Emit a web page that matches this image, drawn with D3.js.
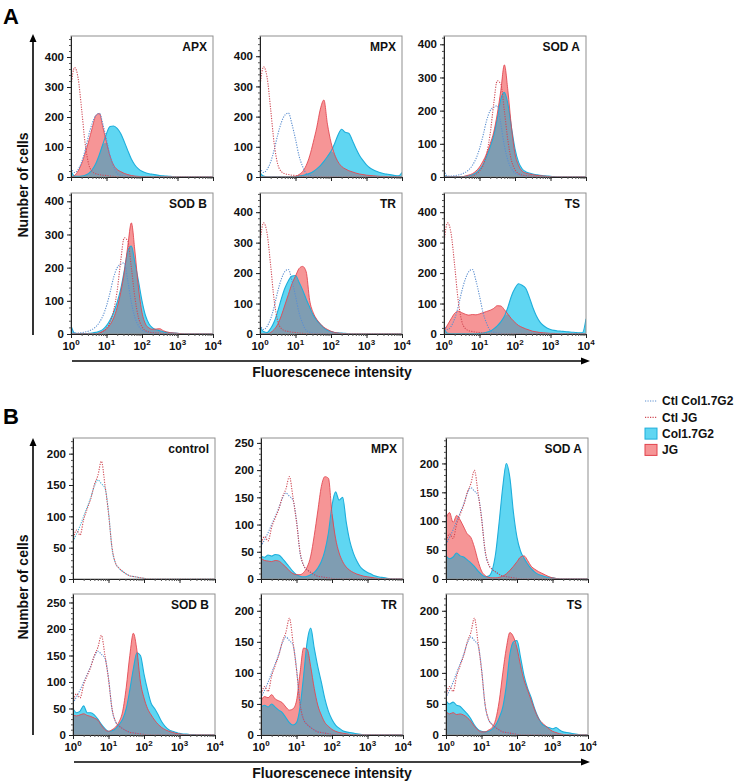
<!DOCTYPE html>
<html>
<head>
<meta charset="utf-8">
<script src="https://cdn.jsdelivr.net/npm/d3@7"></script>
<style>
  body { margin: 0; background: #fff; }
  svg { display: block; font-family: "Liberation Sans", Arial, sans-serif; }
</style>
</head>
<body>
<div id="chart"></div>
<script>
// histogram bins, log10 of fluorescence intensity
const bins = [0, 0.1, 0.2, 0.3, 0.4, 0.5, 0.6, 0.7, 0.8, 0.9, 1, 1.1, 1.2, 1.3, 1.4, 1.5, 1.6, 1.7, 1.8, 1.9, 2,
              2.1, 2.2, 2.3, 2.4, 2.5, 2.6, 2.7, 2.8, 2.9, 3, 3.1, 3.2, 3.3, 3.4, 3.5, 3.6, 3.7, 3.8, 3.9, 4];

const decadeTicks = [1, 10, 100, 1000, 10000];
const decadeExp = ['0', '1', '2', '3', '4'];
const yTicksA = [0, 100, 200, 300, 400];
const yTicksB = [0, 50, 100, 150, 200];
const yTicksB250 = [0, 50, 100, 150, 200, 250];

// ---- A: controls ----
const ctlJgA = [300, 365, 330, 225, 110, 42, 18, 11, 8, 6, 5, 3, 2, 1, 0, 0, 0, 0, 0, 0, 0,
                0, 0, 0, 0, 0, 0, 0, 0, 0, 0, 0, 0, 0, 0, 0, 0, 0, 0, 0, 0];
const ctlColA = [30, 15, 25, 50, 90, 140, 180, 205, 212, 175, 125, 70, 35, 12, 6, 3, 2, 0, 0, 0, 0,
                 0, 0, 0, 0, 0, 0, 0, 0, 0, 0, 0, 0, 0, 0, 0, 0, 0, 0, 0, 0];
const ctlColSod = [20, 3, 3, 4, 6, 9, 14, 22, 35, 55, 85, 125, 170, 200, 210, 215, 160, 95, 50, 25, 12,
                   7, 4, 3, 2, 1, 0, 0, 0, 0, 0, 0, 0, 0, 0, 0, 0, 0, 0, 0, 0];
const ctlJgSod = [0, 0, 0, 0, 0, 0, 0, 0, 3, 8, 18, 35, 70, 130, 220, 290, 280, 200, 110, 50, 22,
                  10, 6, 4, 3, 2, 1, 0, 0, 0, 0, 0, 0, 0, 0, 0, 0, 0, 0, 0, 0];

// ---- A: stained ----
const apxCol = [20, 3, 2, 3, 6, 12, 25, 45, 75, 110, 145, 168, 170, 162, 145, 118, 88, 60, 40, 27, 19,
                14, 11, 9, 7, 5, 4, 3, 2, 1, 0, 0, 0, 0, 0, 0, 0, 0, 0, 0, 0];
const apxJg = [0, 5, 20, 45, 80, 120, 165, 205, 212, 165, 115, 70, 40, 25, 18, 12, 8, 5, 3, 2, 1,
               0, 0, 0, 0, 0, 0, 0, 0, 0, 0, 0, 0, 0, 0, 0, 0, 0, 0, 0, 0];
const mpxCol = [15, 3, 1, 1, 1, 1, 1, 1, 1, 1, 1, 3, 5, 8, 12, 18, 27, 38, 52, 68, 85,
                110, 140, 158, 148, 145, 122, 95, 72, 55, 40, 30, 23, 18, 14, 11, 9, 7, 5, 4, 15];
const mpxJg = [0, 0, 0, 0, 0, 0, 0, 0, 0, 0, 2, 8, 18, 38, 70, 115, 165, 225, 255, 175, 115,
               75, 50, 35, 27, 21, 17, 13, 10, 8, 6, 5, 4, 3, 2, 2, 1, 0, 0, 0, 0];
const sodACol = [5, 1, 1, 1, 1, 1, 2, 4, 7, 12, 22, 38, 62, 90, 125, 175, 235, 255, 220, 150, 85,
                 45, 25, 16, 12, 9, 7, 5, 4, 3, 2, 1, 0, 0, 0, 0, 0, 0, 0, 0, 0];
const sodAJg = [0, 0, 0, 0, 0, 0, 3, 6, 10, 18, 30, 48, 70, 100, 135, 190, 260, 338, 260, 150, 70,
                35, 18, 12, 9, 7, 5, 4, 3, 2, 1, 0, 0, 0, 0, 0, 0, 0, 0, 0, 0];
const sodBCol = [25, 3, 1, 1, 1, 2, 3, 5, 8, 14, 25, 42, 65, 95, 135, 190, 250, 265, 215, 160, 100,
                 55, 30, 18, 13, 10, 7, 5, 4, 3, 2, 1, 0, 0, 0, 0, 0, 0, 0, 0, 0];
const sodBJg = [0, 0, 0, 0, 0, 0, 0, 0, 3, 8, 15, 28, 48, 80, 125, 185, 265, 335, 250, 140, 65,
                30, 18, 14, 15, 16, 10, 6, 4, 3, 2, 1, 0, 0, 0, 0, 0, 0, 0, 0, 0];
const trCol = [25, 8, 5, 18, 40, 75, 115, 150, 175, 190, 192, 170, 145, 115, 88, 62, 45, 32, 20, 12, 8,
               5, 4, 3, 2, 1, 0, 0, 0, 0, 0, 0, 0, 0, 0, 0, 0, 0, 0, 0, 0];
const trJg = [0, 0, 0, 5, 15, 32, 60, 95, 130, 165, 190, 215, 222, 205, 110, 70, 48, 33, 22, 15, 9,
              5, 3, 2, 1, 0, 0, 0, 0, 0, 0, 0, 0, 0, 0, 0, 0, 0, 0, 0, 0];
const tsCol = [20, 2, 1, 1, 1, 1, 1, 1, 1, 1, 2, 3, 6, 10, 17, 27, 40, 58, 88, 125, 150,
               165, 160, 150, 122, 88, 60, 40, 28, 20, 15, 12, 10, 9, 8, 7, 6, 5, 4, 4, 50];
const tsJg = [10, 30, 50, 68, 75, 70, 65, 62, 64, 63, 66, 70, 74, 78, 84, 93, 92, 80, 65, 50, 38,
              28, 22, 17, 13, 9, 7, 5, 4, 3, 2, 2, 1, 0, 0, 0, 0, 0, 0, 0, 0];

// ---- B: controls (same in every panel) ----
const ctlJgB = [62, 78, 70, 95, 112, 128, 150, 165, 188, 150, 105, 50, 25, 17, 12, 8, 5, 4, 3, 2, 1,
                0, 0, 0, 0, 0, 0, 0, 0, 0, 0, 0, 0, 0, 0, 0, 0, 0, 0, 0, 0];
const ctlColB = [60, 72, 85, 100, 115, 130, 148, 158, 152, 145, 108, 48, 25, 17, 12, 8, 5, 4, 3, 2, 1,
                 0, 0, 0, 0, 0, 0, 0, 0, 0, 0, 0, 0, 0, 0, 0, 0, 0, 0, 0, 0];

// ---- B: stained ----
const mpxColB = [42, 40, 44, 42, 45, 44, 38, 30, 22, 14, 8, 5, 4, 5, 8, 12, 20, 32, 52, 85, 135,
                 160, 145, 150, 105, 70, 48, 33, 22, 16, 12, 9, 6, 4, 3, 2, 1, 0, 0, 0, 0];
const mpxJgB = [38, 34, 33, 32, 34, 33, 28, 22, 15, 10, 8, 8, 12, 22, 42, 80, 125, 170, 188, 185, 120,
                75, 48, 32, 22, 16, 12, 9, 7, 5, 4, 3, 2, 1, 0, 0, 0, 0, 0, 0, 0];
const sodAColB = [40, 35, 38, 45, 40, 38, 33, 28, 22, 14, 8, 4, 5, 15, 45, 100, 160, 200, 175, 115, 72,
                  48, 36, 26, 18, 12, 8, 6, 4, 3, 2, 1, 0, 0, 0, 0, 0, 0, 0, 0, 0];
const sodAJgB = [105, 115, 98, 110, 102, 90, 78, 72, 55, 32, 14, 6, 3, 2, 2, 3, 5, 9, 15, 22, 30,
                 38, 40, 32, 22, 17, 13, 10, 7, 4, 2, 1, 0, 0, 0, 0, 0, 0, 0, 0, 0];
const sodBColB = [50, 42, 45, 55, 42, 42, 38, 30, 20, 12, 7, 8, 12, 20, 30, 50, 85, 125, 155, 150, 115,
                  85, 60, 50, 38, 25, 16, 10, 7, 5, 3, 2, 2, 1, 1, 0, 0, 0, 0, 0, 0];
const sodBJgB = [38, 36, 38, 40, 37, 35, 32, 28, 18, 10, 7, 10, 15, 25, 45, 90, 150, 192, 160, 100, 70,
                 50, 38, 28, 20, 14, 10, 7, 5, 3, 2, 1, 0, 0, 0, 0, 0, 0, 0, 0, 0];
const trColB = [45, 48, 45, 50, 45, 40, 36, 28, 20, 16, 20, 45, 95, 150, 172, 140, 110, 85, 58, 38, 25,
                16, 11, 7, 5, 4, 3, 2, 1, 0, 0, 0, 0, 0, 0, 0, 0, 0, 0, 0, 0];
const trJgB = [55, 62, 60, 65, 58, 55, 52, 45, 40, 42, 55, 100, 140, 138, 110, 75, 48, 32, 20, 14, 9,
               6, 4, 3, 2, 1, 0, 0, 0, 0, 0, 0, 0, 0, 0, 0, 0, 0, 0, 0, 0];
const tsColB = [55, 50, 53, 48, 46, 40, 34, 26, 16, 9, 6, 5, 6, 9, 16, 28, 45, 80, 130, 150, 152,
                125, 95, 75, 60, 42, 28, 18, 14, 12, 10, 12, 8, 5, 4, 3, 2, 1, 0, 0, 0];
const tsJgB = [38, 34, 36, 33, 34, 32, 28, 22, 14, 8, 5, 5, 8, 12, 25, 55, 100, 140, 165, 158, 140,
               112, 88, 72, 56, 40, 27, 20, 15, 10, 6, 4, 2, 1, 0, 0, 0, 0, 0, 0, 0];

const legendLabels = ['Ctl Col1.7G2', 'Ctl JG', 'Col1.7G2', 'JG'];

// colours
const cyanFill = '#5fd6f2', cyanLine = '#1eaedb';
const redFill = '#f69596', redLine = '#e2434d';
const overlapFill = '#7f9db2';
const ctlBlue = '#5c8fd0', ctlRed = '#d04a55';

const W = 754, H = 783;
const svg = d3.select('#chart').append('svg').attr('width', W).attr('height', H);

const panels = [
  // section A
  { id: 'a1', name: 'APX',   col: apxCol,  jg: apxJg,  cc: ctlColA,   cj: ctlJgA,   yMax: 470, ticks: yTicksA, minor: 20, left: 71,  top: 36,  bottomLabels: false },
  { id: 'a2', name: 'MPX',   col: mpxCol,  jg: mpxJg,  cc: ctlColA,   cj: ctlJgA,   yMax: 467, ticks: yTicksA, minor: 20, left: 260, top: 36,  bottomLabels: false },
  { id: 'a3', name: 'SOD A', col: sodACol, jg: sodAJg, cc: ctlColSod, cj: ctlJgSod, yMax: 425, ticks: yTicksA, minor: 20, left: 444, top: 36,  bottomLabels: false },
  { id: 'a4', name: 'SOD B', col: sodBCol, jg: sodBJg, cc: ctlColSod, cj: ctlJgSod, yMax: 425, ticks: yTicksA, minor: 20, left: 71,  top: 193, bottomLabels: true },
  { id: 'a5', name: 'TR',    col: trCol,   jg: trJg,   cc: ctlColA,   cj: ctlJgA,   yMax: 463, ticks: yTicksA, minor: 20, left: 260, top: 193, bottomLabels: true },
  { id: 'a6', name: 'TS',    col: tsCol,   jg: tsJg,   cc: ctlColA,   cj: ctlJgA,   yMax: 463, ticks: yTicksA, minor: 20, left: 444, top: 193, bottomLabels: true },
  // section B
  { id: 'b1', name: 'control', col: null,    jg: null,    cc: ctlColB, cj: ctlJgB, yMax: 225, ticks: yTicksB,    minor: 10, left: 73,  top: 438, bottomLabels: false, ccColor: '#4fb8d8' },
  { id: 'b2', name: 'MPX',   col: mpxColB,  jg: mpxJgB,  cc: ctlColB, cj: ctlJgB, yMax: 259, ticks: yTicksB250, minor: 10, left: 261, top: 438, bottomLabels: false },
  { id: 'b3', name: 'SOD A', col: sodAColB, jg: sodAJgB, cc: ctlColB, cj: ctlJgB, yMax: 244, ticks: yTicksB,    minor: 10, left: 446, top: 438, bottomLabels: false },
  { id: 'b4', name: 'SOD B', col: sodBColB, jg: sodBJgB, cc: ctlColB, cj: ctlJgB, yMax: 266, ticks: yTicksB250, minor: 10, left: 73,  top: 594, bottomLabels: true },
  { id: 'b5', name: 'TR',    col: trColB,   jg: trJgB,   cc: ctlColB, cj: ctlJgB, yMax: 227, ticks: yTicksB,    minor: 10, left: 261, top: 594, bottomLabels: true },
  { id: 'b6', name: 'TS',    col: tsColB,   jg: tsJgB,   cc: ctlColB, cj: ctlJgB, yMax: 227, ticks: yTicksB,    minor: 10, left: 446, top: 594, bottomLabels: true }
];

const PW = 142, PH = 141;

function drawPanel(p) {
  const x = d3.scaleLog().domain([1, 1e4]).range([p.left, p.left + PW]);
  const y = d3.scaleLinear().domain([0, p.yMax]).range([p.top + PH, p.top]);
  const g = svg.append('g');

  g.append('clipPath').attr('id', 'clip-' + p.id)
    .append('rect').attr('x', p.left).attr('y', p.top).attr('width', PW).attr('height', PH);
  const plot = g.append('g').attr('clip-path', `url(#clip-${p.id})`);

  const pts = arr => arr.map((v, i) => ({ b: bins[i], v }));
  const area = d3.area().x(d => x(10 ** d.b)).y0(y(0)).y1(d => y(d.v)).curve(d3.curveMonotoneX);
  const line = d3.line().x(d => x(10 ** d.b)).y(d => y(d.v)).curve(d3.curveMonotoneX);

  if (p.col) {
    plot.append('path').datum(pts(p.col)).attr('d', area).attr('fill', cyanFill);
    plot.append('path').datum(pts(p.jg)).attr('d', area).attr('fill', redFill);
    const both = p.col.map((v, i) => Math.min(v, p.jg[i]));
    plot.append('path').datum(pts(both)).attr('d', area).attr('fill', overlapFill);
    plot.append('path').datum(pts(p.col)).attr('d', line)
      .attr('fill', 'none').attr('stroke', cyanLine).attr('stroke-width', 1.1);
    plot.append('path').datum(pts(p.jg)).attr('d', line)
      .attr('fill', 'none').attr('stroke', redLine).attr('stroke-width', 1).attr('stroke-opacity', 0.85);
  }
  // dotted control histograms
  plot.append('path').datum(pts(p.cc)).attr('d', line)
    .attr('fill', 'none').attr('stroke', p.ccColor || ctlBlue).attr('stroke-width', 1.1)
    .attr('stroke-dasharray', '1.2,1.3');
  plot.append('path').datum(pts(p.cj)).attr('d', line)
    .attr('fill', 'none').attr('stroke', ctlRed).attr('stroke-width', 1.1)
    .attr('stroke-dasharray', '1.2,1.3');

  // frame
  g.append('rect').attr('x', p.left).attr('y', p.top).attr('width', PW).attr('height', PH)
    .attr('fill', 'none').attr('stroke', '#8f8f8f').attr('stroke-width', 1);

  // y axis
  const yMinor = d3.range(0, p.yMax, p.minor);
  g.append('g').attr('transform', `translate(${p.left},0)`)
    .call(d3.axisLeft(y).tickValues(yMinor).tickSize(2).tickSizeOuter(0).tickFormat(''))
    .call(s => s.select('.domain').attr('stroke', '#222'))
    .call(s => s.selectAll('.tick line').attr('stroke', '#555'));
  g.append('g').attr('transform', `translate(${p.left},0)`)
    .call(d3.axisLeft(y).tickValues(p.ticks).tickSize(4).tickSizeOuter(0).tickPadding(3))
    .call(s => s.select('.domain').remove())
    .call(s => s.selectAll('.tick line').attr('stroke', '#222'))
    .call(s => s.selectAll('.tick text').attr('font-size', 11.5).attr('font-weight', 'bold')
      .attr('font-family', '"Liberation Sans", Arial, sans-serif').attr('fill', '#111'));

  // x axis
  const xb = p.top + PH;
  g.append('g').attr('transform', `translate(0,${xb})`)
    .call(d3.axisBottom(x).tickValues(x.ticks()).tickSize(2).tickSizeOuter(0).tickFormat(''))
    .call(s => s.select('.domain').attr('stroke', '#222'))
    .call(s => s.selectAll('.tick line').attr('stroke', '#555'));
  g.append('g').attr('transform', `translate(0,${xb})`)
    .call(d3.axisBottom(x).tickValues(decadeTicks).tickSize(4).tickSizeOuter(0).tickFormat(''))
    .call(s => s.select('.domain').remove())
    .call(s => s.selectAll('.tick line').attr('stroke', '#222'));

  if (p.bottomLabels) {
    decadeTicks.forEach((t, i) => {
      const txt = g.append('text').attr('x', x(t)).attr('y', xb + 16)
        .attr('text-anchor', 'middle').attr('font-size', 11.5).attr('font-weight', 'bold').attr('fill', '#111');
      txt.append('tspan').text('10');
      txt.append('tspan').attr('dy', -5).attr('font-size', 8).text(decadeExp[i]);
    });
  }

  // panel name
  g.append('text').attr('x', p.left + PW - 6).attr('y', p.top + 15)
    .attr('text-anchor', 'end').attr('font-size', 12).attr('font-weight', 'bold').attr('fill', '#111')
    .text(p.name);
}

panels.forEach(drawPanel);

// section letters
svg.append('text').attr('x', 3).attr('y', 24).attr('font-size', 22).attr('font-weight', 'bold').text('A');
svg.append('text').attr('x', 3).attr('y', 424).attr('font-size', 22).attr('font-weight', 'bold').text('B');

// axis arrows and titles
function vArrow(xp, y0, y1) {
  svg.append('line').attr('x1', xp).attr('x2', xp).attr('y1', y0).attr('y2', y1 + 6)
    .attr('stroke', '#000').attr('stroke-width', 1.6);
  svg.append('path').attr('d', `M${xp - 3.5},${y1 + 8} L${xp},${y1} L${xp + 3.5},${y1 + 8} Z`).attr('fill', '#000');
}
function hArrow(yp, x0, x1) {
  svg.append('line').attr('x1', x0).attr('x2', x1 - 6).attr('y1', yp).attr('y2', yp)
    .attr('stroke', '#000').attr('stroke-width', 1.6);
  svg.append('path').attr('d', `M${x1 - 9},${yp - 3.5} L${x1},${yp} L${x1 - 9},${yp + 3.5} Z`).attr('fill', '#000');
}

vArrow(33, 335, 34);
vArrow(33, 735, 438);
hArrow(361, 72, 590);
hArrow(762, 74, 590);

[185, 587].forEach(cy => {
  svg.append('text').attr('transform', `translate(28,${cy}) rotate(-90)`)
    .attr('text-anchor', 'middle').attr('font-size', 14).attr('font-weight', 'bold').attr('fill', '#111')
    .text('Number of cells');
});
[377, 778].forEach(by => {
  svg.append('text').attr('x', 332).attr('y', by)
    .attr('text-anchor', 'middle').attr('font-size', 14).attr('font-weight', 'bold').attr('fill', '#111')
    .text('Fluorescenece intensity');
});

// legend
const legend = svg.append('g').attr('transform', 'translate(645,401)');
legendLabels.forEach((lab, i) => {
  const ly = i * 16.3;
  if (i < 2) {
    legend.append('line').attr('x1', 0).attr('x2', 12).attr('y1', ly).attr('y2', ly)
      .attr('stroke', i === 0 ? ctlBlue : ctlRed).attr('stroke-width', 1.2).attr('stroke-dasharray', '1.2,1.3');
  } else {
    legend.append('rect').attr('x', 0).attr('y', ly - 5.5).attr('width', 12).attr('height', 11)
      .attr('fill', i === 2 ? cyanFill : redFill).attr('stroke', i === 2 ? cyanLine : redLine).attr('stroke-width', 1);
  }
  legend.append('text').attr('x', 17).attr('y', ly + 4.2)
    .attr('font-size', 12).attr('font-weight', 'bold').attr('fill', '#111').text(lab);
});
</script>
</body>
</html>
